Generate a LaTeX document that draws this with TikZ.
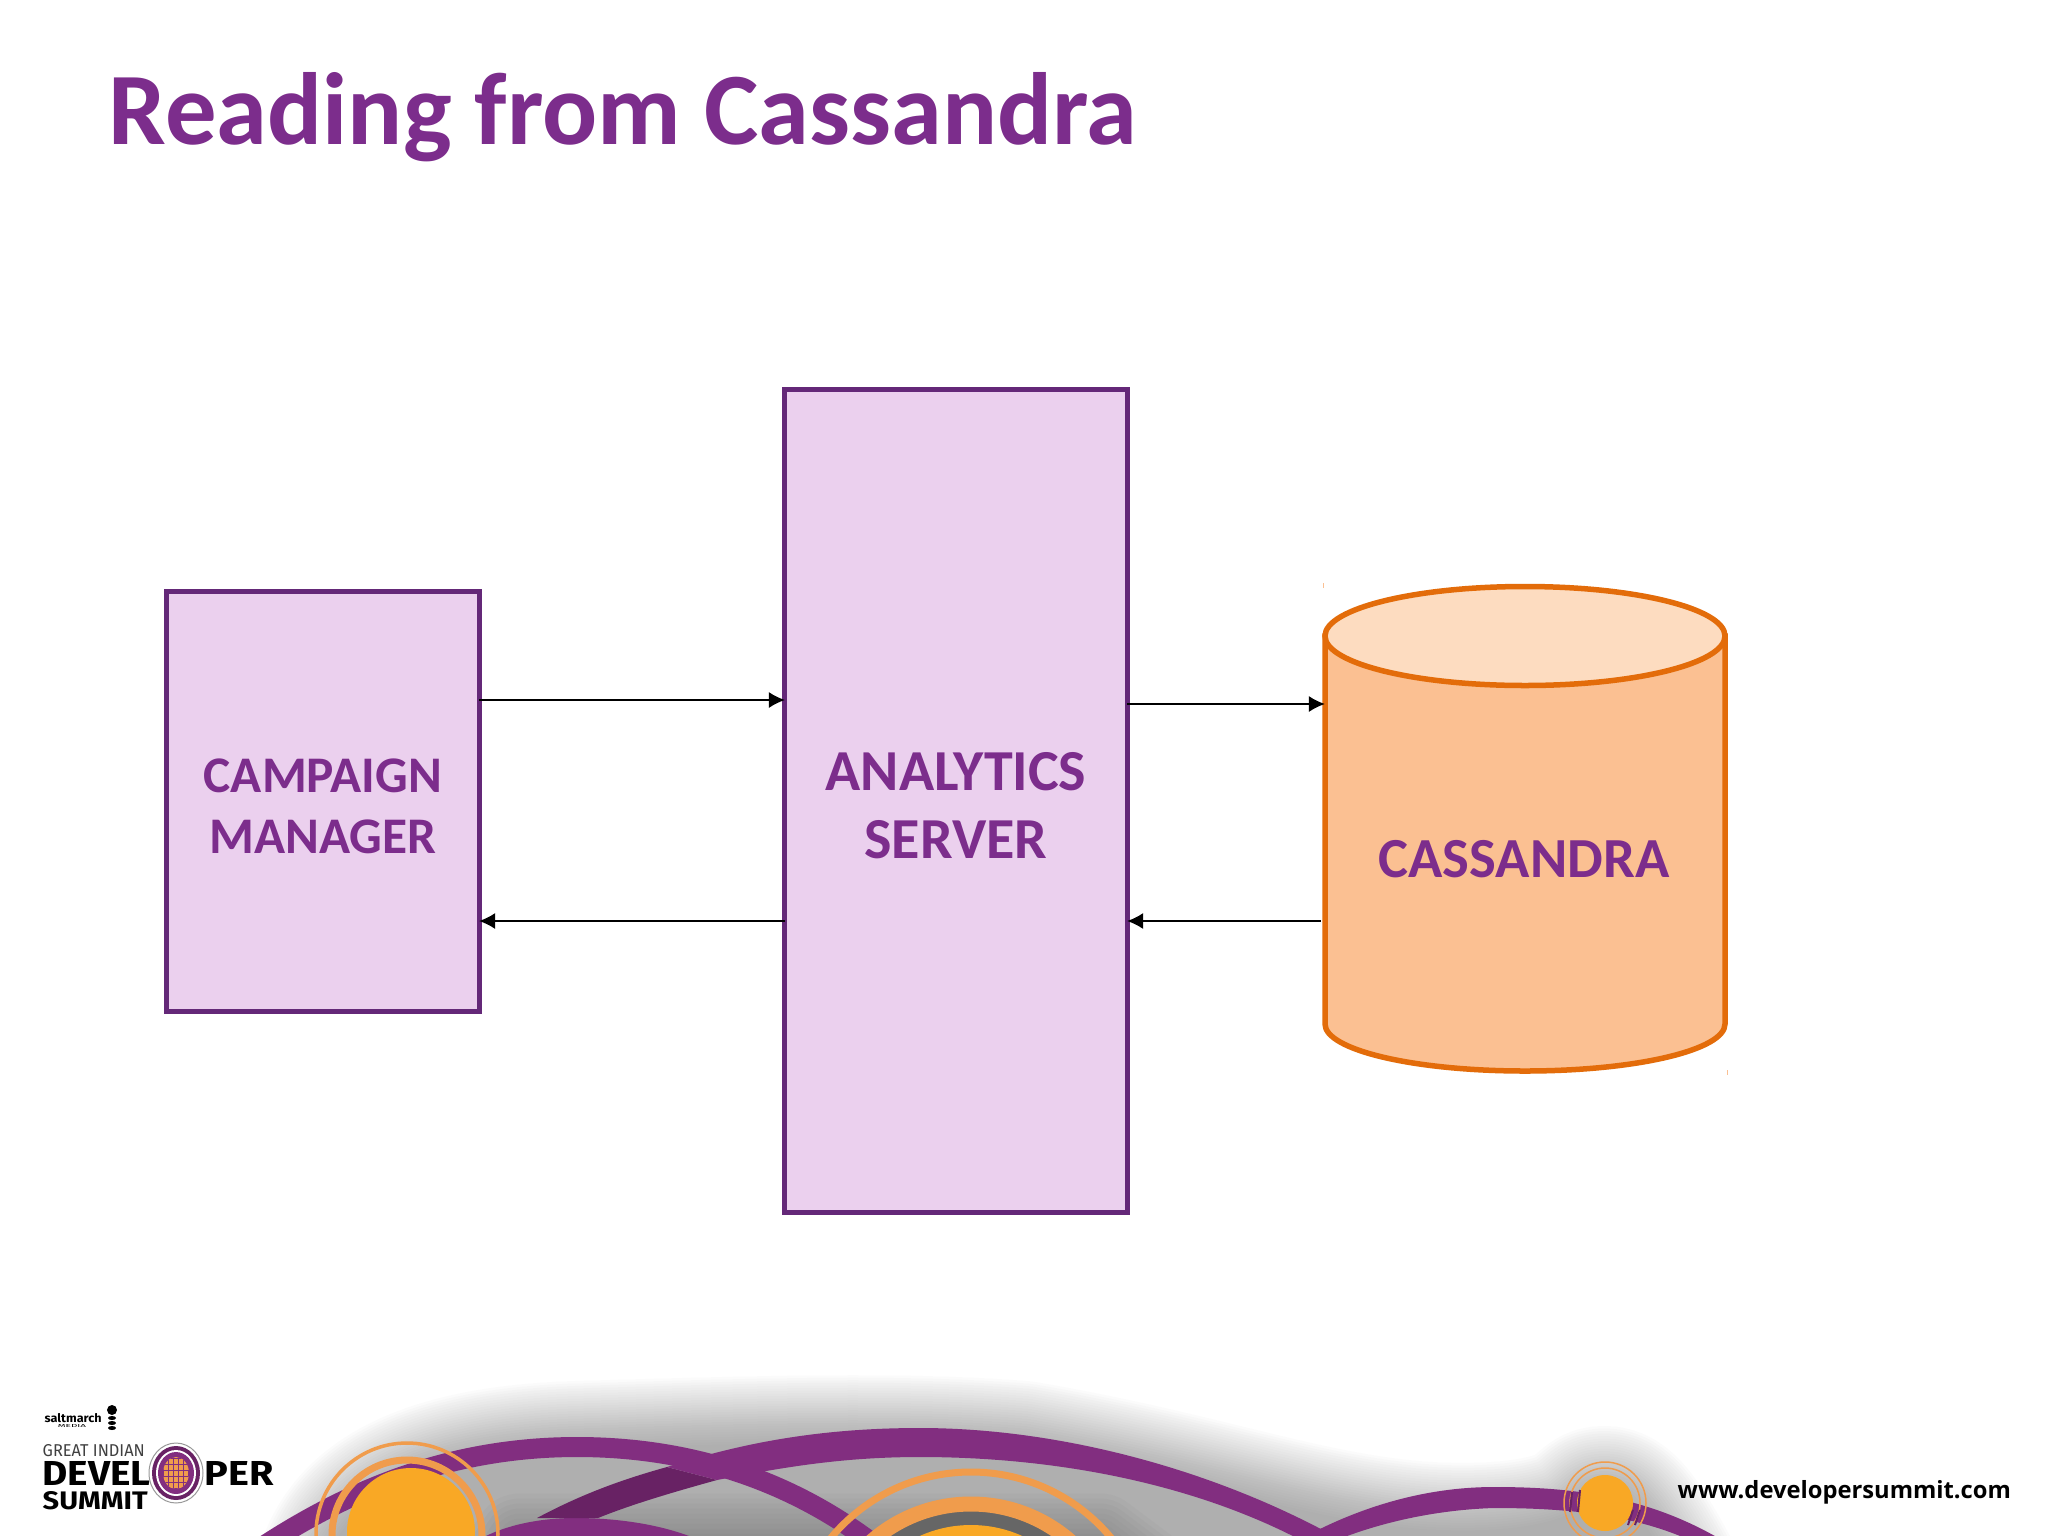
\documentclass[tikz,border=0pt]{standalone}
\usepackage{fontspec}
\setmainfont{Carlito}
\newfontfamily\urlfont{Open Sans}
\newfontfamily\logofont{Fira Sans}
\usetikzlibrary{arrows.meta}
\definecolor{titlepurple}{RGB}{124,45,140}
\definecolor{boxfill}{RGB}{235,208,238}
\definecolor{boxline}{RGB}{100,40,120}
\definecolor{cylfill}{RGB}{251,192,146}
\definecolor{cyltop}{RGB}{253,220,192}
\definecolor{cylline}{RGB}{227,108,10}
\definecolor{bandpurple}{RGB}{130,46,128}
\definecolor{banddark}{RGB}{104,34,100}
\definecolor{ringorange}{RGB}{240,156,76}
\definecolor{diskorange}{RGB}{249,168,37}
\tikzset{
  boxnode/.style={draw=boxline,fill=boxfill,line width=0.05cm,inner sep=0pt,outer sep=0pt},
  boxlabel/.style={align=center,text=titlepurple,inner sep=0pt},
  cylnode/.style={draw=cylline,line width=0.055cm},
  link/.style={draw=black,line width=0.016cm,-{Latex[length=0.16cm,width=0.16cm]}},
  ring/.style={draw=ringorange,fill=none},
}
\begin{document}
\begin{tikzpicture}[x=0.01cm,y=-0.01cm]
    \useasboundingbox (0,0) rectangle (2048,1536);
    \fill[white] (0,0) rectangle (2048,1536);

    % footer artwork
    \begin{scope}
      \clip (0,0) rectangle (2048,1536);
      \foreach \w in {3,8,...,140}
      {
        \begin{scope}[transparency group,opacity=0.02]
        \draw[black!65,fill=black!65,line width=\w*0.01cm,line join=round]
          (325,1570) .. controls (345,1500) and (420,1455) .. (575,1450)
          .. controls (750,1445) and (900,1440) .. (1024,1450)
          .. controls (1200,1480) and (1300,1520) .. (1416,1530)
          .. controls (1480,1535) and (1540,1530) .. (1570,1515)
          .. controls (1590,1500) and (1590,1495) .. (1605,1495)
          .. controls (1625,1495) and (1640,1515) .. (1670,1570) -- cycle;
        \end{scope}
      }
      \foreach \w in {3,13,...,100}
      {
        \begin{scope}[transparency group,opacity=0.035]
        \draw[black!70,fill=black!70,line width=\w*0.01cm,line join=round]
          (480,1600) -- (520,1540) -- (1100,1540) -- (1180,1600) -- cycle;
        \end{scope}
      }
      % bands
      \fill[bandpurple] (470,1545) .. controls (500,1525) and (540,1518) .. (575,1518)
        .. controls (620,1518) and (670,1525) .. (710,1545) -- cycle;
      \fill[banddark] (537,1518) .. controls (580,1495) and (620,1480) .. (667,1467)
        -- (717,1480) .. controls (670,1493) and (630,1505) .. (598,1518) -- cycle;
      \fill[bandpurple] (667,1467) .. controls (750,1440) and (830,1428) .. (920,1428)
        .. controls (1060,1428) and (1220,1470) .. (1350,1545)
        -- (1310,1545) .. controls (1200,1485) and (1060,1457) .. (920,1457)
        .. controls (840,1457) and (780,1468) .. (717,1480) -- cycle;
      \draw[bandpurple,line width=0.2cm] (265,1545) .. controls (350,1490) and (450,1447) .. (577,1447)
        .. controls (690,1447) and (790,1480) .. (875,1545);
      \fill[bandpurple] (1290,1545) .. controls (1350,1510) and (1420,1487) .. (1494,1487)
        .. controls (1570,1487) and (1650,1495) .. (1730,1545)
        -- (1700,1545) .. controls (1640,1515) and (1570,1508) .. (1494,1508)
        .. controls (1430,1510) and (1370,1525) .. (1325,1545) -- cycle;

      % rings
      \fill[black!60] (971,1655) circle (146);
      \draw[ring,line width=0.07cm] (971,1654) circle (182);
      \draw[ring,line width=0.15cm] (971,1655) circle (151);
      \fill[diskorange] (971,1650) circle (125);
      \fill[diskorange] (411,1532) circle (64);
      \draw[ring,line width=0.035cm] (407,1534) circle (91);
      \draw[ring,line width=0.07cm] (407,1535) circle (75);
      \fill[diskorange] (1605,1503) circle (28);
      \draw[ring,line width=0.015cm] (1605,1503) circle (41);
      \draw[ring,line width=0.015cm] (1605,1503) circle (35);
      \draw[banddark,line width=0.02cm] (1572,1492) -- (1570,1512);
      \draw[banddark,line width=0.02cm] (1580,1490) -- (1578,1512);
      \draw[banddark,line width=0.02cm] (1633,1510) -- (1628,1525);
      \draw[banddark,line width=0.02cm] (1640,1510) -- (1635,1525);
    \end{scope}

    % logo
    \node[anchor=west,inner sep=0pt] (saltmarch) at (44,1418)
      {\resizebox{0.57cm}{0.09cm}{\logofont\bfseries saltmarch}};
    \node[anchor=north,inner sep=0pt] (saltmedia) at (72,1424)
      {\resizebox{0.28cm}{0.03cm}{\logofont MEDIA}};
    \fill[black] (112,1410) circle (5);
    \foreach \p in {1418,1423,1428} { \fill[black] (112,\p) ellipse (4 and 2); }
    \node[anchor=west,inner sep=0pt] (greatindian) at (42,1451)
      {\resizebox{1.02cm}{0.12cm}{\logofont\color{black!75} GREAT INDIAN}};
    \node[anchor=west,inner sep=0pt] (devel) at (42,1473)
      {\resizebox{1.08cm}{0.24cm}{\logofont\bfseries DEVEL}};
    \node[anchor=west,inner sep=0pt] (per) at (204,1473)
      {\resizebox{0.69cm}{0.24cm}{\logofont\bfseries PER}};
    \node[anchor=west,inner sep=0pt] (summit) at (42,1501)
      {\resizebox{1.05cm}{0.18cm}{\logofont\bfseries SUMMIT}};
    \filldraw[fill=white,draw=black!40,line width=0.01cm] (176,1473) ellipse (27 and 30);
    \fill[banddark] (176,1473) ellipse (24 and 27);
    \fill[white] (176,1473) ellipse (20 and 23);
    \fill[bandpurple] (176,1473) ellipse (18 and 21);
    \begin{scope}
      \clip (176,1473) ellipse (13 and 16);
      \fill[ringorange] (160,1455) rectangle (192,1491);
      \foreach \g in {163,168,...,190} { \draw[bandpurple,line width=0.008cm] (\g,1455) -- (\g,1491); }
      \foreach \g in {458,464,...,488} { \draw[bandpurple,line width=0.008cm] (160,1000+\g) -- (192,1000+\g); }
    \end{scope}
    \node[anchor=west,inner sep=0pt] (website) at (1677,1492)
      {\resizebox{3.33cm}{!}{\urlfont\bfseries www.developersummit.com}};

    % title
    \node[anchor=west,inner sep=0pt,text=titlepurple,font=\fontsize{29.2}{34}\selectfont\bfseries] (title) at (108,117)
      {Reading from Cassandra};

    % boxes
    \node[boxnode,minimum width=3.12cm,minimum height=4.19cm] (campaign) at (323,801.5) {};
    \node[boxlabel,font=\fontsize{14.6}{17.4}\selectfont\bfseries] (campaignlabel) at (323,806) {CAMPAIGN\\MANAGER};
    \node[boxnode,minimum width=3.42cm,minimum height=8.22cm] (analytics) at (956,801) {};
    \node[boxlabel,font=\fontsize{16.5}{19.4}\selectfont\bfseries] (analyticslabel) at (956,806) {ANALYTICS\\SERVER};

    % cylinder
    \node[inner sep=0pt,outer sep=0pt,minimum width=4.0cm,minimum height=4.88cm] (cassandra) at (1525,828) {};
    \filldraw[cylnode,fill=cylfill] (1325,636) -- (1325,1024)
      .. controls (1325,1050) and (1414,1071) .. (1525,1071)
      .. controls (1636,1071) and (1725,1050) .. (1725,1024) -- (1725,636) -- cycle;
    \filldraw[cylnode,fill=cyltop] (1525,636) ellipse (200 and 49.5);
    \draw[cylfill,line width=0.01cm] (1323,583) -- (1323,588);
    \draw[cylfill,line width=0.01cm] (1727,1070) -- (1727,1075);
    \node[boxlabel,font=\fontsize{16.1}{18}\selectfont\bfseries] (cassandralabel) at (1524,859) {CASSANDRA};

    % connectors
    \coordinate (upperleft) at (0,700);
    \coordinate (upperright) at (0,704);
    \coordinate (lower) at (0,921);
    \draw[link] (campaign.east |- upperleft) -- (analytics.west |- upperleft);
    \draw[link] (analytics.west |- lower) -- (campaign.east |- lower);
    \draw[link] (analytics.east |- upperright) -- (cassandra.west |- upperright);
    \draw[link,shorten <=0.04cm] (cassandra.west |- lower) -- (analytics.east |- lower);
\end{tikzpicture}
\end{document}
